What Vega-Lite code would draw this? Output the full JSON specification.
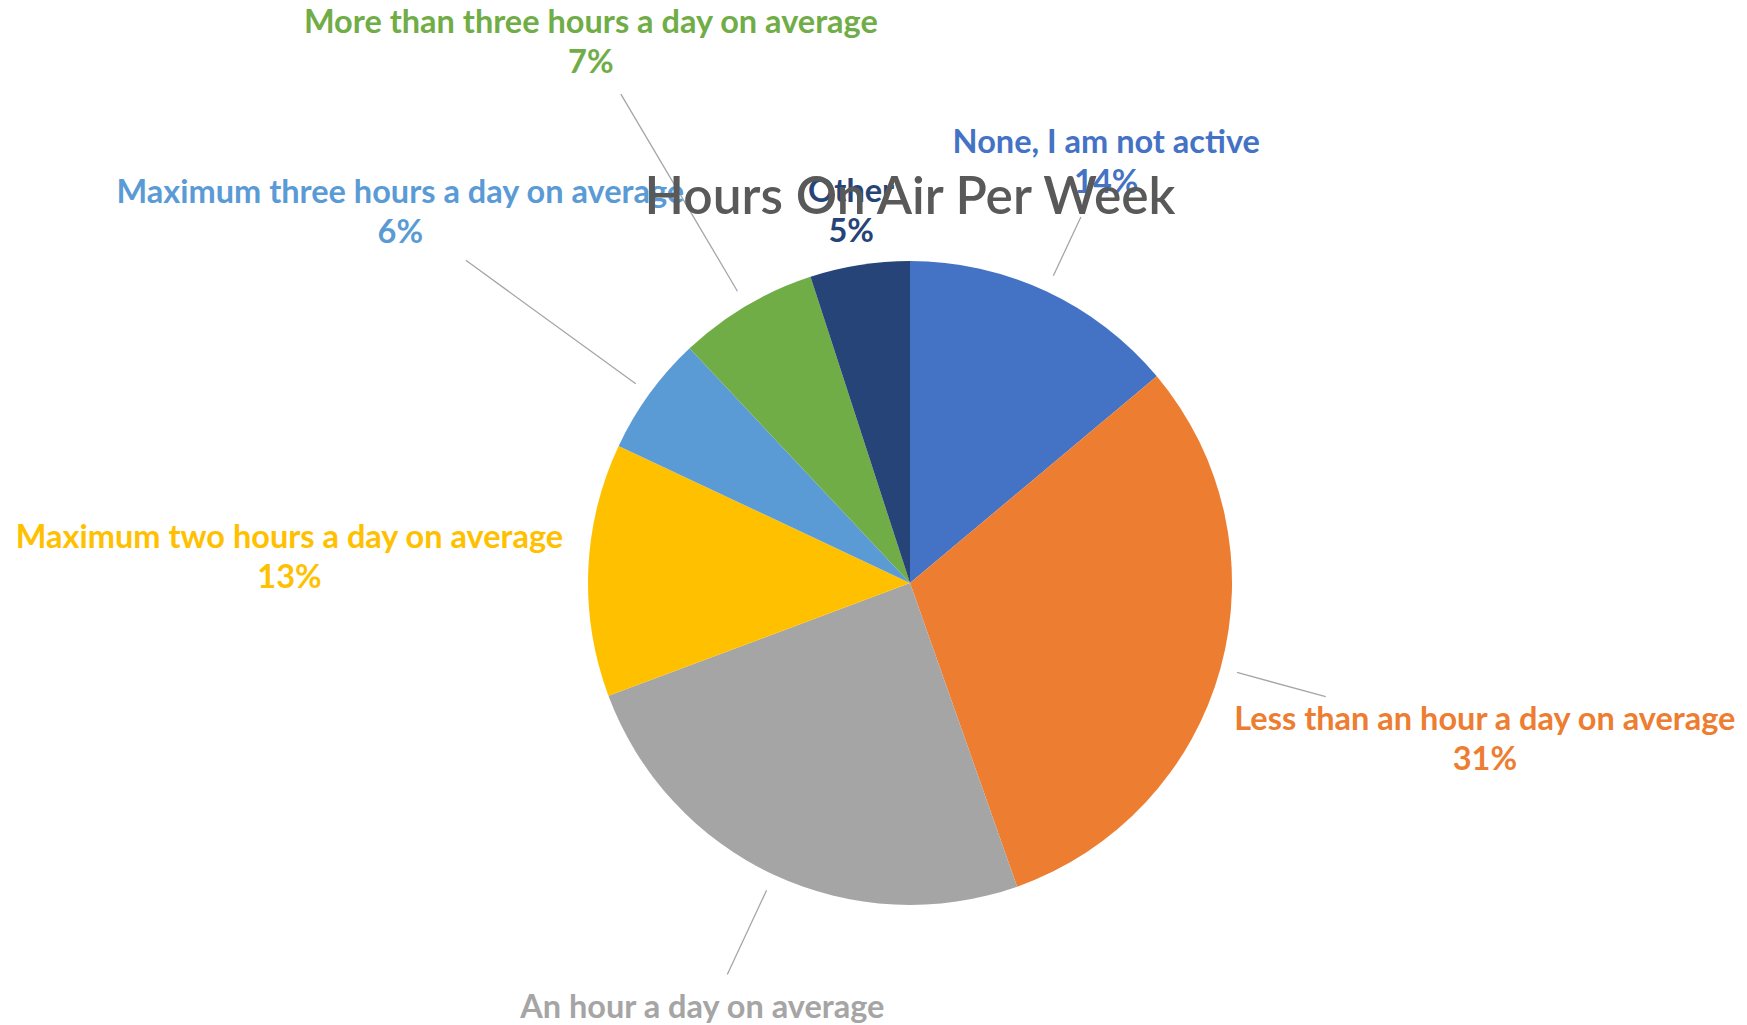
{
  "$schema": "https://vega.github.io/schema/vega-lite/v6.json",
  "autosize": {"type": "none"},
  "width": 1674,
  "height": 884,
  "padding": {"left": 73, "top": 141, "right": 0, "bottom": 0},
  "background": "#FFFFFF",
  "title": {
    "text": "Hours On Air Per Week",
    "font": "Lato",
    "fontSize": 51.5,
    "fontWeight": 600,
    "color": "#595959",
    "anchor": "middle",
    "frame": "group",
    "baseline": "alphabetic",
    "offset": -258,
    "zindex": -1
  },
  "data": {
    "values": [
      {"category": "None, I am not active", "value": 13.9},
      {"category": "Less than an hour a day on average", "value": 30.7},
      {"category": "An hour a day on average", "value": 24.7},
      {"category": "Maximum two hours a day on average", "value": 12.7},
      {"category": "Maximum three hours a day on average", "value": 6.0},
      {"category": "More than three hours a day on average", "value": 7.0},
      {"category": "Other", "value": 5.0}
    ]
  },
  "transform": [
    {"window": [{"op": "row_number", "as": "idx"}]},
    {"stack": "value", "groupby": [], "sort": [{"field": "idx", "order": "ascending"}], "as": ["v0", "v1"]},
    {"calculate": "(datum.v0 + datum.v1) / 2", "as": "mid"},
    {"calculate": "datum.category + '\\n' + format(datum.value / 100, '.0%')", "as": "label"}
  ],
  "encoding": {
    "color": {
      "field": "category",
      "type": "nominal",
      "legend": null,
      "scale": {
        "domain": ["None, I am not active", "Less than an hour a day on average", "An hour a day on average", "Maximum two hours a day on average", "Maximum three hours a day on average", "More than three hours a day on average", "Other"],
        "range": ["#4472C4", "#ED7D31", "#A5A5A5", "#FFC000", "#5B9BD5", "#70AD47", "#264478"]
      }
    }
  },
  "layer": [
    {"mark": {"type": "arc", "outerRadius": 322},
     "encoding": {
       "theta": {"field": "v0", "type": "quantitative", "scale": {"domain": [0, 100]}},
       "theta2": {"field": "v1"}
     }},
    {"transform": [{"filter": "datum.category === 'None, I am not active'"}],
     "mark": {"type": "arc", "outerRadius": 404, "innerRadius": 339, "stroke": "#A6A6A6", "strokeWidth": 1.3, "fillOpacity": 0},
     "encoding": {"theta": {"field": "mid", "type": "quantitative"}, "theta2": {"field": "mid"}}},
    {"transform": [{"filter": "datum.category === 'Less than an hour a day on average'"}],
     "mark": {"type": "arc", "outerRadius": 431, "innerRadius": 339, "stroke": "#A6A6A6", "strokeWidth": 1.3, "fillOpacity": 0},
     "encoding": {"theta": {"field": "mid", "type": "quantitative"}, "theta2": {"field": "mid"}}},
    {"transform": [{"filter": "datum.category === 'An hour a day on average'"}],
     "mark": {"type": "arc", "outerRadius": 432, "innerRadius": 339, "stroke": "#A6A6A6", "strokeWidth": 1.3, "fillOpacity": 0},
     "encoding": {"theta": {"field": "mid", "type": "quantitative"}, "theta2": {"field": "mid"}}},
    {"transform": [{"filter": "datum.category === 'Maximum three hours a day on average'"}],
     "mark": {"type": "arc", "outerRadius": 549, "innerRadius": 339, "stroke": "#A6A6A6", "strokeWidth": 1.3, "fillOpacity": 0},
     "encoding": {"theta": {"field": "mid", "type": "quantitative"}, "theta2": {"field": "mid"}}},
    {"transform": [{"filter": "datum.category === 'More than three hours a day on average'"}],
     "mark": {"type": "arc", "outerRadius": 568, "innerRadius": 339, "stroke": "#A6A6A6", "strokeWidth": 1.3, "fillOpacity": 0},
     "encoding": {"theta": {"field": "mid", "type": "quantitative"}, "theta2": {"field": "mid"}}},
    {"transform": [{"filter": "datum.category === 'None, I am not active'"}],
     "mark": {"type": "text", "radius": 464, "dy": -20, "font": "Lato", "fontWeight": "bold", "fontSize": 32.5, "lineBreak": "\n", "lineHeight": 40, "align": "center", "baseline": "middle"},
     "encoding": {"theta": {"field": "mid", "type": "quantitative", "stack": null}, "text": {"field": "label", "type": "nominal"}}},
    {"transform": [{"filter": "datum.category === 'Less than an hour a day on average'"}],
     "mark": {"type": "text", "radius": 596, "dy": -20, "font": "Lato", "fontWeight": "bold", "fontSize": 32.5, "lineBreak": "\n", "lineHeight": 40, "align": "center", "baseline": "middle"},
     "encoding": {"theta": {"field": "mid", "type": "quantitative", "stack": null}, "text": {"field": "label", "type": "nominal"}}},
    {"transform": [{"filter": "datum.category === 'An hour a day on average'"}],
     "mark": {"type": "text", "radius": 491, "dy": -20, "font": "Lato", "fontWeight": "bold", "fontSize": 32.5, "lineBreak": "\n", "lineHeight": 40, "align": "center", "baseline": "middle"},
     "encoding": {"theta": {"field": "mid", "type": "quantitative", "stack": null}, "text": {"field": "label", "type": "nominal"}}},
    {"transform": [{"filter": "datum.category === 'Maximum two hours a day on average'"}],
     "mark": {"type": "text", "radius": 621, "dy": -20, "font": "Lato", "fontWeight": "bold", "fontSize": 32.5, "lineBreak": "\n", "lineHeight": 40, "align": "center", "baseline": "middle"},
     "encoding": {"theta": {"field": "mid", "type": "quantitative", "stack": null}, "text": {"field": "label", "type": "nominal"}}},
    {"transform": [{"filter": "datum.category === 'Maximum three hours a day on average'"}],
     "mark": {"type": "text", "radius": 630, "dy": -20, "font": "Lato", "fontWeight": "bold", "fontSize": 32.5, "lineBreak": "\n", "lineHeight": 40, "align": "center", "baseline": "middle"},
     "encoding": {"theta": {"field": "mid", "type": "quantitative", "stack": null}, "text": {"field": "label", "type": "nominal"}}},
    {"transform": [{"filter": "datum.category === 'More than three hours a day on average'"}],
     "mark": {"type": "text", "radius": 627, "dy": -20, "font": "Lato", "fontWeight": "bold", "fontSize": 32.5, "lineBreak": "\n", "lineHeight": 40, "align": "center", "baseline": "middle"},
     "encoding": {"theta": {"field": "mid", "type": "quantitative", "stack": null}, "text": {"field": "label", "type": "nominal"}}},
    {"transform": [{"filter": "datum.category === 'Other'"}],
     "mark": {"type": "text", "radius": 376, "dy": -20, "font": "Lato", "fontWeight": "bold", "fontSize": 32.5, "lineBreak": "\n", "lineHeight": 40, "align": "center", "baseline": "middle"},
     "encoding": {"theta": {"field": "mid", "type": "quantitative", "stack": null}, "text": {"field": "label", "type": "nominal"}}}
  ]
}
